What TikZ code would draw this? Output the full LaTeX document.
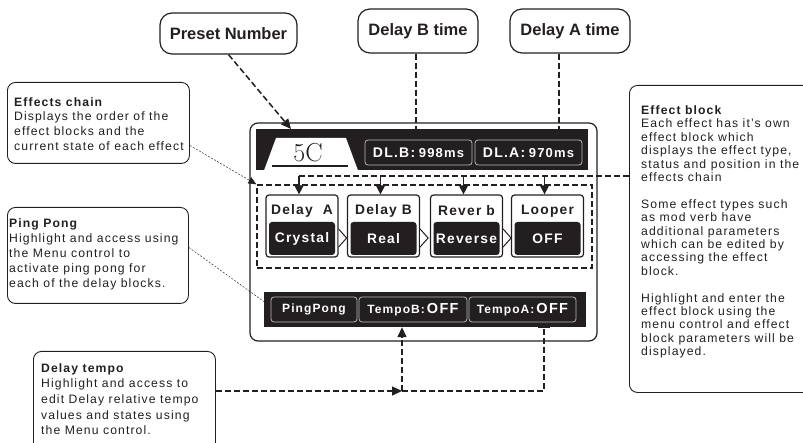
\documentclass[tikz,border=0pt]{standalone}
\usepackage{fontspec}
\setsansfont{Liberation Sans}[LetterSpace=9]
\newfontfamily\headfont{Liberation Sans}
\usetikzlibrary{arrows.meta}
\definecolor{ink}{HTML}{231F20}

\tikzset{
  callbox/.style={draw=ink, line width=0.9pt, rounded corners=8pt, anchor=north west, inner sep=0pt},
  calltext/.style={anchor=north west, align=left, inner sep=0pt, text=ink, font=\sffamily\fontsize{12.2}{15.2}\selectfont},
  headbox/.style={draw=ink, line width=1.2pt, rounded corners=12pt, text=ink, font=\headfont\bfseries\fontsize{16.5}{18}\selectfont},
  fxblock/.style={draw=ink, line width=1.2pt, rounded corners=3pt, minimum width=72pt, minimum height=62pt, fill=white},
  fxname/.style={text=ink, font=\sffamily\bfseries\fontsize{13.8}{15}\selectfont},
  fxstate/.style={fill=ink, rounded corners=3pt, minimum width=66pt, minimum height=33pt, inner sep=0pt, text=white, font=\sffamily\bfseries\fontsize{13.8}{15}\selectfont},
  lcdbox/.style={draw=white!72!black, line width=0.8pt, rounded corners=3pt, minimum height=25pt, inner sep=1pt, text=white, font=\sffamily\bfseries},
  guide/.style={draw=ink, line width=1.3pt, dash pattern=on 6pt off 3pt},
  leader/.style={draw=ink, line width=0.45pt, dash pattern=on 2pt off 1.5pt},
  tip/.style={-{Triangle[length=10pt,width=9pt]}}
}

\begin{document}
\begin{tikzpicture}[x=1pt, y=-1pt]
    \useasboundingbox (0,0) rectangle (803,443);

    % call-outs
    \node[headbox, minimum width=137pt, minimum height=41pt] (presetnum) at (228.5,33.5) {Preset Number};
    \node[headbox, minimum width=120pt, minimum height=44pt] (dlbtime) at (418,31) {Delay B time};
    \node[headbox, minimum width=120pt, minimum height=44pt] (dlatime) at (570,31) {Delay A time};

    \node[callbox, minimum width=182pt, minimum height=81pt] (chaininfo) at (7,82) {};
    \node[calltext, font=\sffamily\fontsize{12.2}{14.7}\selectfont] (chaintext) at (14,97) {\textbf{Effects chain}\\Displays the order of the\\effect blocks and the\\current state of each effect};
    \node[callbox, minimum width=181pt, minimum height=96pt] (pinginfo) at (7,207) {};
    \node[calltext] (pingtext) at (9,218) {\textbf{Ping Pong}\\Highlight and access using\\the Menu control to\\activate ping pong for\\each of the delay blocks.};
    \node[callbox, minimum width=182pt, minimum height=100pt] (tempoinfo) at (33,351) {};
    \node[calltext, font=\sffamily\fontsize{12.2}{15.7}\selectfont] (tempotext) at (41,363) {\textbf{Delay tempo}\\Highlight and access to\\edit Delay relative tempo\\values and states using\\the Menu control.};
    \node[callbox, minimum width=190pt, minimum height=307pt] (blockinfo) at (629,85) {};
    \node[calltext, font=\sffamily\fontsize{12.2}{13.4}\selectfont] (blocktext) at (641,105.5) {\textbf{Effect block}\\Each effect has it's own\\effect block which\\displays the effect type,\\status and position in the\\effects chain\\[13.4pt]Some effect types such\\as mod verb have\\additional parameters\\which can be edited by\\accessing the effect\\block.\\[13.4pt]Highlight and enter the\\effect block using the\\menu control and effect\\block parameters will be\\displayed.};

    % screen
    \draw[ink, line width=1.2pt, rounded corners=8pt] (250,123) rectangle (597,341);
    \node[fill=ink, minimum width=332pt, minimum height=41pt, inner sep=0pt] (topbar) at (422,149.5) {};
    \fill[white] (264,170.5) -- (276,138) -- (346,138) -- (358,170.5) -- cycle;
    \node[text=ink, font=\rmfamily\fontsize{26}{26}\selectfont] (preset) at (308,152.5) {5C};
    \draw[ink, line width=2pt] (272,166) -- (348,166);
    \node[lcdbox, minimum width=107pt] (dlb) at (418.5,152.5) {{\fontsize{14}{14}\selectfont DL.B:} {\fontsize{13}{14}\selectfont 998ms}};
    \node[lcdbox, minimum width=107pt] (dla) at (528.5,152.5) {{\fontsize{14}{14}\selectfont DL.A:} {\fontsize{13}{14}\selectfont 970ms}};

    \node[guide, minimum width=335pt, minimum height=83pt] (chain) at (424.5,226.5) {};
    \foreach \cx/\nm/\fx/\st in {302/A/{Delay\ \ A}/Crystal, 383.5/B/{Delay B}/Real, 466.5/R/{Rever b}/Reverse, 547.5/L/Looper/OFF} {
        \node[fxblock] (blk\nm) at (\cx,226) {};
        \node[fxname] (name\nm) at (\cx,211) {\fx};
        \node[fxstate] (state\nm) at (\cx,238.5) {\st};
    }
    \foreach \nm in {A,B,R}
        \draw[ink, line width=1pt, fill=white] (blk\nm.east) ++(0,3) -- ++(8,9) -- ++(-8,9);

    \node[fill=ink, minimum width=322pt, minimum height=35pt, inner sep=0pt] (lowbar) at (425,309.5) {};
    \node[lcdbox, minimum width=86pt] (pp) at (314,309.5) {\fontsize{12}{14}\selectfont PingPong};
    \node[lcdbox, minimum width=108pt] (tb) at (413,309.5) {\fontsize{12}{14}\selectfont TempoB:\,{\fontsize{14.5}{14}\selectfont OFF}};
    \node[lcdbox, minimum width=107pt] (ta) at (522.5,309.5) {\fontsize{12}{14}\selectfont TempoA:\,{\fontsize{14.5}{14}\selectfont OFF}};

    % connectors
    \coordinate (presettip) at (291,129);
    \draw[guide, line width=1.5pt, tip] (presetnum.south) -- (presettip);
    \draw[guide] ([xshift=-2pt]dlbtime.south) -- ([xshift=-2pt]dlbtime.south |- topbar.north);
    \draw[guide] ([xshift=-11pt]dlatime.south) -- ([xshift=-11pt]dlatime.south |- topbar.north);

    \coordinate (bus) at (299,176);
    \draw[guide] (blockinfo.west |- bus) -- (bus);
    \foreach \nm in {A,B,R,L}
        \draw[ink, line width=1.2pt, -{Triangle[length=9pt,width=9pt]}] ([xshift=-3pt]blk\nm.north |- bus) -- ([xshift=-3pt]blk\nm.north);

    \draw[leader, -{Triangle[length=8pt,width=7pt]}] ([yshift=-22.5pt]chaininfo.east) -- (chain.north west);
    \draw[leader] ([yshift=8pt]pinginfo.east) -- ([yshift=8pt]lowbar.west);

    \coordinate (tempojoin) at (402,391);
    \draw[guide, tip] (tempoinfo.east |- tempojoin) -- (tempojoin);
    \draw[guide, tip] (tempojoin) -- ([xshift=-11pt]tb.south |- lowbar.south);
    \draw[guide, -{Bar[width=12pt]}] (tempojoin) -- ++(142,0) -- ([xshift=21.5pt]ta.south |- lowbar.south);
\end{tikzpicture}
\end{document}
